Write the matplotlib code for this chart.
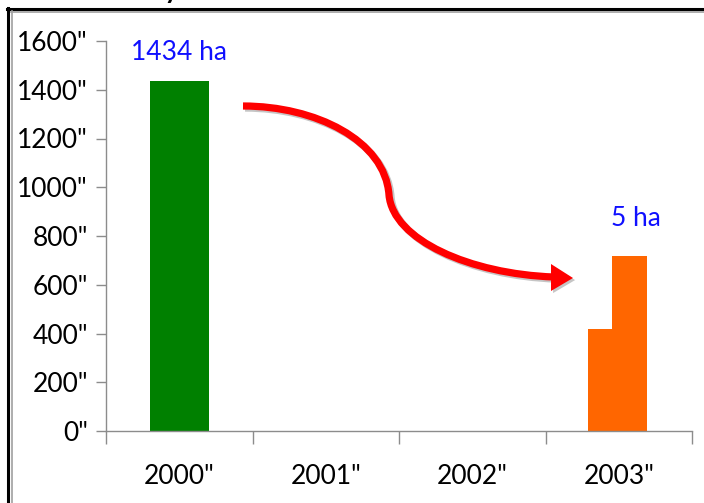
import matplotlib
matplotlib.use("Agg")
import matplotlib.pyplot as plt
from matplotlib.path import Path
from matplotlib.patches import PathPatch, Polygon
from matplotlib.lines import Line2D
import matplotlib.patheffects as pe
from matplotlib.transforms import Affine2D

# ---- data ----
years = ["2000\"", "2001\"", "2002\"", "2003\""]
green_values = [1434, 0, 0, 0]
orange_low = [0, 0, 0, 418]
orange_high = [0, 0, 0, 718]
yticks = [0, 200, 400, 600, 800, 1000, 1200, 1400, 1600]
ytick_labels = [f"{v}\"" for v in yticks]
label_green = "1434 ha"
label_orange = "5 ha"

W, H = 704, 503
plt.rcParams['font.family'] = ['Lato', 'DejaVu Sans']
fig = plt.figure(figsize=(W / 100, H / 100), dpi=100)
ax = fig.add_axes([106 / W, 1 - 431 / H, (692 - 106) / W, (431 - 41) / H])

x = list(range(len(years)))
ax.bar(x, green_values, width=0.40, color="#008000", zorder=2)
ax.bar([xi - 0.21 for xi in x], orange_low, width=0.165, align='edge', color="#FF6600", zorder=2)
ax.bar([xi - 0.045 for xi in x], orange_high, width=0.24, align='edge', color="#FF6600", zorder=2)

ax.set_xlim(-0.5, 3.5)
ax.set_ylim(0, 1600)
ax.set_yticks(yticks)
ax.set_yticklabels(ytick_labels, fontsize=19)
ax.set_xticks(x)
ax.set_xticklabels(years, fontsize=19)
ax.set_xticks([-0.5, 0.5, 1.5, 2.5, 3.5], minor=True)
ax.tick_params(axis='x', which='major', length=0, pad=24)
ax.tick_params(axis='x', which='minor', length=9, color="#8c8c8c", width=1)
ax.tick_params(axis='y', length=7, color="#8c8c8c", width=1, pad=6)
for s in ['top', 'right']:
    ax.spines[s].set_visible(False)
for s in ['left', 'bottom']:
    ax.spines[s].set_color("#8c8c8c")
    ax.spines[s].set_linewidth(1)

ax.text(0, 1500, label_green, color="#1010ff", fontsize=19, ha='center', va='bottom')
ax.text(3.12, 820, label_orange, color="#1010ff", fontsize=19, ha='center', va='bottom')

# ---- red curved arrow (figure pixel coordinates, y downward) ----
tr = Affine2D().scale(1, -1).translate(0, H) + fig.dpi_scale_trans.inverted().frozen() + fig.dpi_scale_trans
verts = [(243, 106), (315, 106), (385, 140), (389, 195),
         (393, 240), (470, 274), (554, 277)]
codes = [Path.MOVETO, Path.CURVE4, Path.CURVE4, Path.CURVE4,
         Path.CURVE4, Path.CURVE4, Path.CURVE4]
pix = Affine2D().scale(1, -1).translate(0, H)
path = Path(verts, codes)
shadow = [pe.SimpleLineShadow(offset=(1.5, -1.5), shadow_color='gray', alpha=0.45), pe.Normal()]
curve = PathPatch(path, facecolor='none', edgecolor='#ff0000', lw=5.2, capstyle='butt',
                  transform=pix, path_effects=shadow)
fig.patches.append(curve)
head = Polygon([(551, 264), (573, 278), (551, 291)], closed=True, facecolor='#ff0000',
               edgecolor='none', transform=pix,
               path_effects=[pe.SimplePatchShadow(offset=(1.5, -1.5), shadow_rgbFace='gray', alpha=0.45), pe.Normal()])
fig.patches.append(head)

# ---- frame lines ----
fig.add_artist(Line2D([7 / W, 1], [1 - 8.5 / H, 1 - 8.5 / H], color='black', lw=2.2))
fig.add_artist(Line2D([11 / W, 1], [1 - 12 / H, 1 - 12 / H], color='#a0a0a0', lw=1.2))
fig.add_artist(Line2D([8 / W, 8 / W], [0, 1 - 7.5 / H], color='black', lw=2.2))
fig.add_artist(Line2D([12 / W, 12 / W], [0, 1 - 11 / H], color='#a0a0a0', lw=1.2))

# cut-off title glimpse
fig.text(163 / W, 1 + 3 / H, "y", fontsize=26, color='black', va='baseline', ha='left')

fig.savefig("out.png", dpi=100)
